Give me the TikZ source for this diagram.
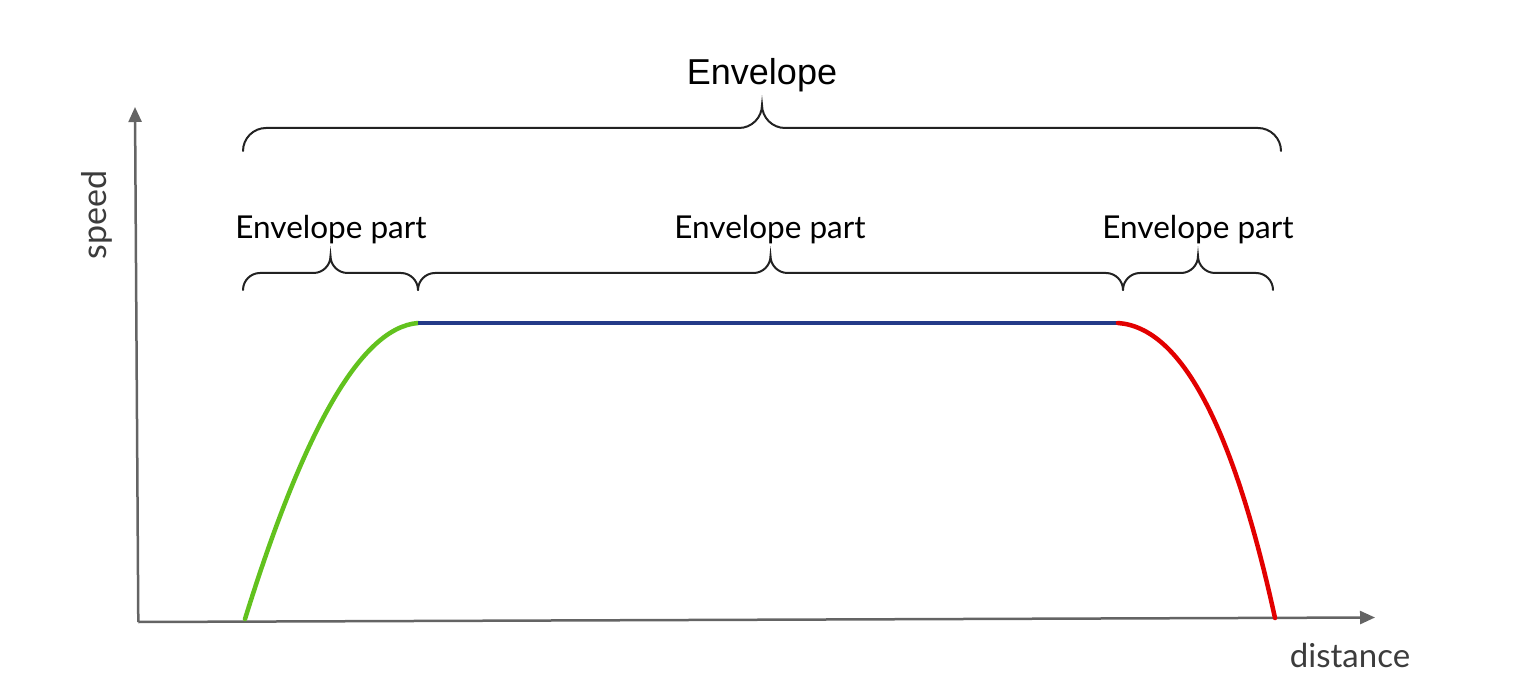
\documentclass[tikz,border=0pt]{standalone}
\usepackage{fontspec}
\setmainfont{Lato}
\newfontfamily\titlefont{Liberation Sans}
\usetikzlibrary{calc}
\usetikzlibrary{arrows.meta}

\definecolor{accgreen}{RGB}{98,194,30}
\definecolor{cruiseblue}{RGB}{36,58,136}
\definecolor{brakered}{RGB}{226,0,0}
\definecolor{axisgray}{RGB}{100,100,100}
\definecolor{bracegray}{RGB}{34,34,34}
\definecolor{labelgray}{RGB}{60,60,60}

\tikzset{
  axisline/.style={line width=2.5pt,axisgray,-{Triangle[length=15pt,width=13pt]}},
  bracestyle/.style={line width=2pt,bracegray,line cap=round},
  profile/.style={line width=4.5pt,line cap=round},
}

% curly brace between two ends (#1,#2) on its line, #3 is the curl radius
\newcommand{\envbrace}[3]{%
  \coordinate (bm) at ($(#1)!0.5!(#2)$);
  \draw[bracestyle] ($(#1)+(0,#3)$) .. controls ($(#1)+(0,0.45*#3)$) and ($(#1)+(0.45*#3,0)$) .. ($(#1)+(#3,0)$)
    -- ($(bm)+(-#3,0)$) .. controls ($(bm)+(-0.45*#3,0)$) and ($(bm)+(0,-0.45*#3)$) .. ($(bm)+(0,-#3)$)
    .. controls ($(bm)+(0,-0.45*#3)$) and ($(bm)+(0.45*#3,0)$) .. ($(bm)+(#3,0)$)
    -- ($(#2)+(-#3,0)$) .. controls ($(#2)+(-0.45*#3,0)$) and ($(#2)+(0,0.45*#3)$) .. ($(#2)+(0,#3)$);
}

\begin{document}
\begin{tikzpicture}[x=1pt,y=-1pt]
\useasboundingbox (0,0) rectangle (1534,700);
\coordinate (O) at (138.3,622);
\coordinate (Xend) at (1375,617.5);
\coordinate (Yend) at (135,107);
%\coordinate (Yend) at (138.3,107);
\draw[axisline] (O)--(Xend);
\draw[axisline] (O)--(Yend);
\node[labelgray,rotate=90] (speed) at (97,215) {\fontsize{34}{38}\selectfont speed};
\node[labelgray,anchor=base] (distance) at (1350,667) {\fontsize{33}{38}\selectfont distance};
% speed profile
\coordinate (A) at (245,619);
\coordinate (B) at (418,323);
\coordinate (C) at (1118,323);
\coordinate (D) at (1275,618);
\draw[profile,accgreen] (A) .. controls (305,426) and (362,327.5) .. (B);
\draw[profile,cruiseblue,line cap=butt] (B)--(C);
\draw[profile,brakered] (C) .. controls (1181,327.5) and (1233,426) .. (D);
% braces
\coordinate (E1) at (243,128);
\coordinate (E2) at (1281,128);
\envbrace{E1}{E2}{23}
\coordinate (P1) at (243,273);
\coordinate (P2) at (418,273);
\coordinate (P3) at (1123,273);
\coordinate (P4) at (1273,273);
\envbrace{P1}{P2}{17}
\envbrace{P2}{P3}{17}
\envbrace{P3}{P4}{17}
\node[anchor=base] (env) at (762,85) {\titlefont\fontsize{36}{40}\selectfont Envelope};
\node[anchor=base] (part1) at (331,239) {\fontsize{31.5}{36}\selectfont Envelope part};
\node[anchor=base] (part2) at (770,239) {\fontsize{31.5}{36}\selectfont Envelope part};
\node[anchor=base] (part3) at (1198,239) {\fontsize{31.5}{36}\selectfont Envelope part};
\end{tikzpicture}
\end{document}
